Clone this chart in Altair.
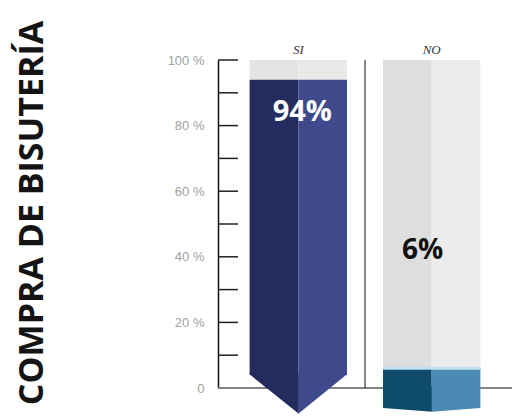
import altair as alt
import pandas as pd

# ---- data ----
categorias = ["SI", "NO"]
porcentajes = [94, 6]
ticks_eje = [10, 20, 30, 40, 50, 60, 70, 80, 90, 100]
valores_etiqueta = [0, 20, 40, 60, 80, 100]
titulo = "COMPRA DE BISUTERÍA"
mitades = ["izq", "der"]

# ---- styles ----
colores = {
    "SI-valor-izq": "#242b5f", "SI-valor-der": "#3e4a8b",
    "SI-resto-izq": "#e4e4e4", "SI-resto-der": "#e9e9e9",
    "NO-valor-izq": "#0f4c6c", "NO-valor-der": "#4c8ab3",
    "NO-resto-izq": "#dedede", "NO-resto-der": "#ececec",
}
W, H = 294, 328
PAD_IN, PAD_OUT = 0.27, 0.237
step = W / (len(categorias) - PAD_IN + 2 * PAD_OUT)
band = step * (1 - PAD_IN)
SIZE = band ** 2  # custom symbol unit = sqrt(size)/2 = half band

rows = []
for c, v in zip(categorias, porcentajes):
    for m in mitades:
        rows.append(dict(cat=c, mitad=m, y0=0, y1=v, parte="valor", key=f"{c}-valor-{m}"))
        rows.append(dict(cat=c, mitad=m, y0=v, y1=100, parte="resto", key=f"{c}-resto-{m}"))
seg = pd.DataFrame(rows)
cats = pd.DataFrame(dict(cat=categorias, valor=porcentajes))
cats["label"] = cats["valor"].astype(str) + "%"
ticks = pd.DataFrame(dict(t=ticks_eje))

x_axis = alt.Axis(orient="top", title=None, domain=False, ticks=False, labelAngle=0,
                  labelPadding=4, labelFont="Liberation Serif", labelFontStyle="italic",
                  labelFontSize=13, labelColor="#333333")
y_axis = alt.Axis(values=valores_etiqueta, title=None, ticks=False, grid=False,
                  domain=True, domainColor="#111111", domainWidth=1.5,
                  labelPadding=14, labelFontSize=13, labelColor="#a0a0a0",
                  labelFont="Liberation Sans",
                  labelExpr="datum.value == 0 ? '0' : datum.value + ' %'")
x_scale = alt.Scale(domain=categorias, paddingInner=PAD_IN, paddingOuter=PAD_OUT)
y_scale = alt.Scale(domain=[0, 100], nice=False)


def X(**kw):
    return alt.X("cat:N", sort=categorias, scale=x_scale, axis=x_axis, **kw)


def Y(field, **kw):
    return alt.Y(field, scale=y_scale, axis=y_axis, **kw)


color = alt.Color("key:N", scale=alt.Scale(domain=list(colores), range=list(colores.values())),
                  legend=None)
xoff = alt.XOffset("mitad:N", scale=alt.Scale(domain=mitades, paddingInner=0, paddingOuter=0))

baseline = alt.Chart(cats).mark_rule(color="#858585", strokeWidth=2).encode(y=Y("b:Q")).transform_calculate(b="0")

tick_marks = alt.Chart(ticks).mark_rule(color="#222222", strokeWidth=1.5).encode(
    y=Y("t:Q"), x=alt.value(0), x2=alt.value(20))

resto = alt.Chart(seg).transform_filter("datum.parte == 'resto'").mark_bar().encode(
    x=X(), xOffset=xoff, y=Y("y0:Q"), y2="y1:Q", color=color)

valor_si = alt.Chart(seg).transform_filter("datum.parte == 'valor' && datum.cat == 'SI'").mark_bar(
    y2Offset=-13).encode(x=X(), xOffset=xoff, y=Y("y1:Q"), y2="y0:Q", color=color)

valor_no = alt.Chart(seg).transform_filter("datum.parte == 'valor' && datum.cat == 'NO'").mark_bar().encode(
    x=X(), xOffset=xoff, y=Y("y1:Q"), y2="y0:Q", color=color)


def forma(cat, path, col):
    return alt.Chart(cats).transform_filter(f"datum.cat == '{cat}'").transform_calculate(b="0").mark_point(
        filled=True, shape=path, size=SIZE, color=col, opacity=1, strokeWidth=0
    ).encode(x=X(), y=Y("b:Q"))


chev_l = forma("SI", "M-1,-0.28 L0.01,-0.28 L0.01,0.53 Z", colores["SI-valor-izq"])
chev_r = forma("SI", "M0,-0.28 L1,-0.28 L0,0.53 Z", colores["SI-valor-der"])
box_l = forma("NO", "M-1,-0.03 L0.01,-0.03 L0.01,0.49 L-1,0.41 Z", colores["NO-valor-izq"])
box_r = forma("NO", "M0,-0.03 L1,-0.03 L1,0.41 L0,0.49 Z", colores["NO-valor-der"])

brillo = alt.Chart(cats).transform_filter("datum.cat == 'NO'").mark_bar(
    color="#bfe2ec", yOffset=-1.5, y2Offset=1.5).encode(x=X(), y=Y("valor:Q"), y2="valor:Q")

divisor = alt.Chart(cats).transform_filter("datum.cat == 'NO'").transform_calculate(
    a="100", b="0").mark_rule(color="#111111", strokeWidth=1, xOffset=-step * PAD_IN / 2).encode(
    x=X(bandPosition=0), y=Y("a:Q"), y2="b:Q")

txt_si = alt.Chart(cats).transform_filter("datum.cat == 'SI'").mark_text(
    color="white", font="Open Sans", fontWeight="bold", fontSize=29, dy=32, dx=4,
    baseline="middle").encode(x=X(), y=Y("valor:Q"), text="label:N")
txt_no = alt.Chart(cats).transform_filter("datum.cat == 'NO'").mark_text(
    color="#111111", font="Open Sans", fontWeight="bold", fontSize=28, dy=-117, dx=-9,
    baseline="middle").encode(x=X(), y=Y("valor:Q"), text="label:N")

tit = alt.Chart(pd.DataFrame(dict(t=[titulo]))).mark_text(
    angle=270, font="Open Sans", fontWeight="bold", fontSize=34, color="#141414",
    baseline="middle", align="center").encode(x=alt.value(-185), y=alt.value(153), text="t:N")

chart = alt.layer(
    baseline, tick_marks, resto, valor_si, valor_no, chev_l, chev_r, box_l, box_r,
    brillo, divisor, txt_si, txt_no, tit
).properties(
    width=W, height=H,
    padding={"left": 218, "top": 60, "right": 0, "bottom": 28},
    autosize=alt.AutoSizeParams(type="none"),
    background="white",
).configure_view(stroke=None)

chart.save("out.html", embed_options={"renderer": "svg", "actions": False})
